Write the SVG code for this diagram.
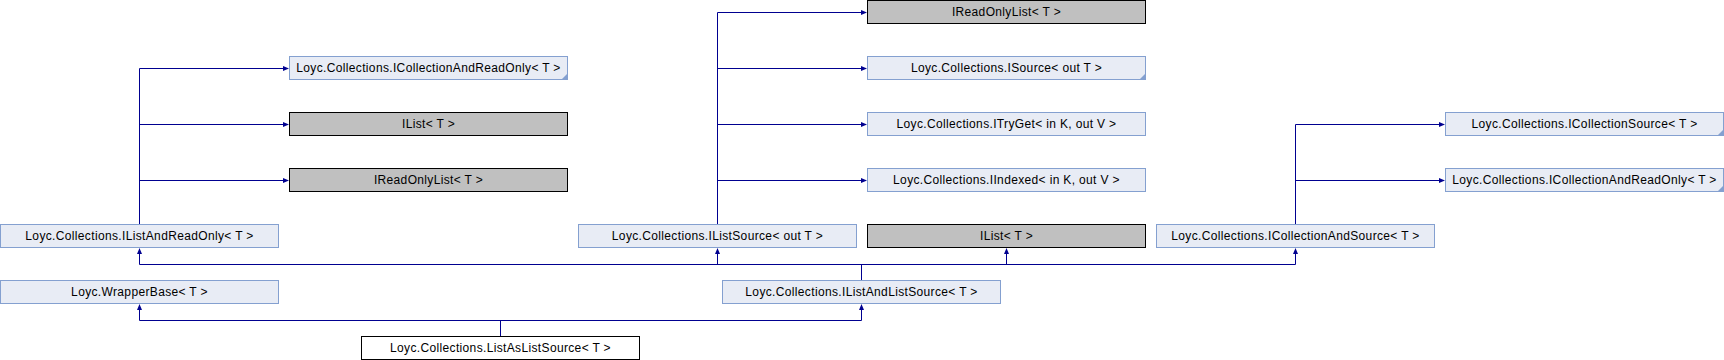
<svg xmlns="http://www.w3.org/2000/svg" width="1724" height="360" viewBox="0 0 1724 360">
<style>
.n{fill:#E8ECF5;stroke:#84A0D0;stroke-width:1}
.g{fill:#C0C0C0;stroke:#000000;stroke-width:1}
.w{fill:#FFFFFF;stroke:#000000;stroke-width:1}
.c{fill:#84A0D0}
text{font-family:"Liberation Sans",Arial,sans-serif;font-size:12px;letter-spacing:0.35px;fill:#000000;text-anchor:middle}
.l{fill:none;stroke:#000090;stroke-width:1}
.a{fill:#000090}
</style>
<rect width="1724" height="360" fill="#FFFFFF"/>
<g id="connectors">
<path class="l" d="M139.5,224.5V68.5H284M139.5,124.5H284M139.5,180.5H284"/>
<path class="l" d="M717.5,224.5V12.5H862M717.5,68.5H862M717.5,124.5H862M717.5,180.5H862"/>
<path class="l" d="M1295.5,224.5V124.5H1440M1295.5,180.5H1440"/>
<path class="l" d="M861.5,280.5V264.5M139.5,264.5H1295.5M139.5,264.5V253M717.5,264.5V253M1006.5,264.5V253M1295.5,264.5V253"/>
<path class="l" d="M500.5,336.5V320.5M139.5,320.5H861.5M139.5,320.5V309M861.5,320.5V309"/>
<g class="a">
<polygon points="289,68.5 283,66 283,71"/>
<polygon points="289,124.5 283,122 283,127"/>
<polygon points="289,180.5 283,178 283,183"/>
<polygon points="867,12.5 861,10 861,15"/>
<polygon points="867,68.5 861,66 861,71"/>
<polygon points="867,124.5 861,122 861,127"/>
<polygon points="867,180.5 861,178 861,183"/>
<polygon points="1445,124.5 1439,122 1439,127"/>
<polygon points="1445,180.5 1439,178 1439,183"/>
<polygon points="139.5,248 137,254 142,254"/>
<polygon points="717.5,248 715,254 720,254"/>
<polygon points="1006.5,248 1004,254 1009,254"/>
<polygon points="1295.5,248 1293,254 1298,254"/>
<polygon points="139.5,304 137,310 142,310"/>
<polygon points="861.5,304 859,310 864,310"/>
</g>
</g>
<g id="n_IReadOnlyList_top"><rect class="g" x="867.5" y="0.5" width="278" height="23"/><text x="1006.5" y="16">IReadOnlyList&lt; T &gt;</text></g>
<g id="n_ICollectionAndReadOnly_left"><rect class="n" x="289.5" y="56.5" width="278" height="23"/><polygon class="c" points="567,74 567,79 562,79"/><text x="428.5" y="72">Loyc.Collections.ICollectionAndReadOnly&lt; T &gt;</text></g>
<g id="n_ISource"><rect class="n" x="867.5" y="56.5" width="278" height="23"/><polygon class="c" points="1145,74 1145,79 1140,79"/><text x="1006.5" y="72">Loyc.Collections.ISource&lt; out T &gt;</text></g>
<g id="n_IList_left"><rect class="g" x="289.5" y="112.5" width="278" height="23"/><text x="428.5" y="128">IList&lt; T &gt;</text></g>
<g id="n_ITryGet"><rect class="n" x="867.5" y="112.5" width="278" height="23"/><text x="1006.5" y="128">Loyc.Collections.ITryGet&lt; in K, out V &gt;</text></g>
<g id="n_ICollectionSource"><rect class="n" x="1445.5" y="112.5" width="278" height="23"/><polygon class="c" points="1723,130 1723,135 1718,135"/><text x="1584.5" y="128">Loyc.Collections.ICollectionSource&lt; T &gt;</text></g>
<g id="n_IReadOnlyList_left"><rect class="g" x="289.5" y="168.5" width="278" height="23"/><text x="428.5" y="184">IReadOnlyList&lt; T &gt;</text></g>
<g id="n_IIndexed"><rect class="n" x="867.5" y="168.5" width="278" height="23"/><text x="1006.5" y="184">Loyc.Collections.IIndexed&lt; in K, out V &gt;</text></g>
<g id="n_ICollectionAndReadOnly_right"><rect class="n" x="1445.5" y="168.5" width="278" height="23"/><polygon class="c" points="1723,186 1723,191 1718,191"/><text x="1584.5" y="184">Loyc.Collections.ICollectionAndReadOnly&lt; T &gt;</text></g>
<g id="n_IListAndReadOnly"><rect class="n" x="0.5" y="224.5" width="278" height="23"/><text x="139.5" y="240">Loyc.Collections.IListAndReadOnly&lt; T &gt;</text></g>
<g id="n_IListSource"><rect class="n" x="578.5" y="224.5" width="278" height="23"/><text x="717.5" y="240">Loyc.Collections.IListSource&lt; out T &gt;</text></g>
<g id="n_IList_right"><rect class="g" x="867.5" y="224.5" width="278" height="23"/><text x="1006.5" y="240">IList&lt; T &gt;</text></g>
<g id="n_ICollectionAndSource"><rect class="n" x="1156.5" y="224.5" width="278" height="23"/><text x="1295.5" y="240">Loyc.Collections.ICollectionAndSource&lt; T &gt;</text></g>
<g id="n_WrapperBase"><rect class="n" x="0.5" y="280.5" width="278" height="23"/><text x="139.5" y="296">Loyc.WrapperBase&lt; T &gt;</text></g>
<g id="n_IListAndListSource"><rect class="n" x="722.5" y="280.5" width="278" height="23"/><text x="861.5" y="296">Loyc.Collections.IListAndListSource&lt; T &gt;</text></g>
<g id="n_ListAsListSource"><rect class="w" x="361.5" y="336.5" width="278" height="23"/><text x="500.5" y="352">Loyc.Collections.ListAsListSource&lt; T &gt;</text></g>
</svg>
